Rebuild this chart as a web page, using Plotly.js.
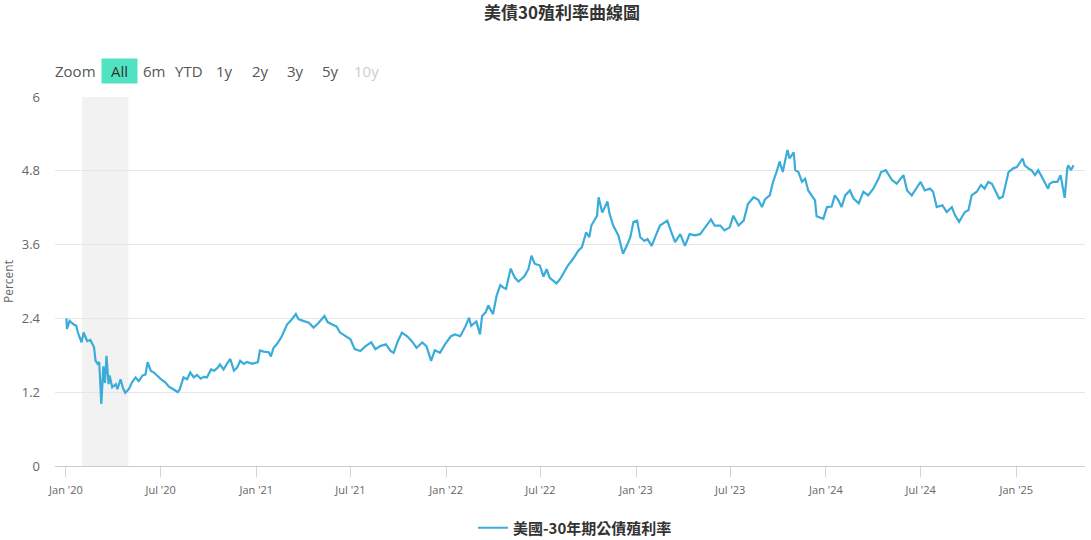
<!DOCTYPE html>
<html><head><meta charset="utf-8">
<script src="https://cdn.plot.ly/plotly-3.0.1.min.js"></script>
<style>html,body{margin:0;padding:0;background:#fff}#chart{width:1091px;height:540px}</style>
</head><body><div id="chart"></div>
<script>
// ---------- DATA ----------
const seriesName = '美國-30年期公債殖利率';
const chartTitle = '美債30殖利率曲線圖';
const yAxisLabel = 'Percent';

const dates2020 = ['2020-01-02','2020-01-03','2020-01-08','2020-01-16','2020-01-21','2020-01-24','2020-01-31','2020-02-04','2020-02-11','2020-02-17','2020-02-24','2020-02-27','2020-03-02','2020-03-05','2020-03-09','2020-03-13','2020-03-16','2020-03-19','2020-03-23','2020-03-25','2020-03-30','2020-04-06','2020-04-09','2020-04-15','2020-04-20','2020-04-24','2020-05-01','2020-05-07','2020-05-14','2020-05-20','2020-05-27','2020-06-02','2020-06-06','2020-06-12','2020-06-18','2020-06-24','2020-07-02','2020-07-10','2020-07-17','2020-07-23','2020-07-30','2020-08-03','2020-08-07','2020-08-14','2020-08-21','2020-08-27','2020-09-03','2020-09-09','2020-09-16','2020-09-22','2020-09-28','2020-10-06','2020-10-12','2020-10-19','2020-10-23','2020-10-30','2020-11-06','2020-11-12','2020-11-19','2020-11-25','2020-12-01','2020-12-08','2020-12-14','2020-12-24'];
const yields2020 = [2.40,2.23,2.36,2.30,2.28,2.17,2.01,2.17,2.03,2.05,1.93,1.71,1.66,1.69,1.01,1.62,1.35,1.79,1.33,1.47,1.28,1.33,1.25,1.41,1.26,1.19,1.25,1.36,1.44,1.38,1.47,1.49,1.69,1.55,1.52,1.47,1.41,1.36,1.29,1.26,1.22,1.20,1.25,1.44,1.41,1.52,1.44,1.48,1.42,1.45,1.44,1.57,1.55,1.60,1.65,1.57,1.67,1.74,1.55,1.60,1.71,1.66,1.69,1.66];

const dates2021 = ['2021-01-04','2021-01-08','2021-01-15','2021-01-25','2021-01-29','2021-02-03','2021-02-11','2021-02-19','2021-03-01','2021-03-08','2021-03-18','2021-03-23','2021-04-01','2021-04-12','2021-04-21','2021-04-30','2021-05-12','2021-05-18','2021-05-27','2021-06-04','2021-06-11','2021-06-21','2021-07-01','2021-07-09','2021-07-20','2021-07-30','2021-08-10','2021-08-18','2021-08-27','2021-09-07','2021-09-16','2021-09-22','2021-09-30','2021-10-08','2021-10-18','2021-10-27','2021-11-05','2021-11-16','2021-11-24','2021-12-03','2021-12-10','2021-12-20','2021-12-30'];
const yields2021 = [1.69,1.88,1.86,1.85,1.78,1.92,2.00,2.11,2.30,2.36,2.47,2.39,2.36,2.33,2.25,2.32,2.44,2.34,2.30,2.27,2.17,2.11,2.06,1.90,1.87,1.95,2.01,1.90,1.95,1.98,1.87,1.84,2.03,2.17,2.11,2.03,1.92,2.01,1.95,1.71,1.88,1.84,1.98];

const dates2022 = ['2022-01-10','2022-01-18','2022-01-28','2022-02-07','2022-02-14','2022-02-18','2022-02-28','2022-03-07','2022-03-11','2022-03-18','2022-03-23','2022-04-01','2022-04-08','2022-04-15','2022-04-21','2022-04-26','2022-05-05','2022-05-13','2022-05-20','2022-05-31','2022-06-08','2022-06-14','2022-06-20','2022-06-30','2022-07-07','2022-07-13','2022-07-19','2022-08-01','2022-08-08','2022-08-15','2022-08-23','2022-09-02','2022-09-12','2022-09-19','2022-09-27','2022-10-03','2022-10-07','2022-10-18','2022-10-21','2022-10-28','2022-11-07','2022-11-11','2022-11-18','2022-11-28','2022-12-07','2022-12-14','2022-12-21','2022-12-27'];
const yields2022 = [2.11,2.14,2.11,2.27,2.41,2.28,2.35,2.14,2.44,2.50,2.61,2.47,2.77,2.94,2.90,2.88,3.21,3.06,3.00,3.08,3.20,3.42,3.29,3.26,3.08,3.20,3.06,2.97,3.04,3.14,3.26,3.37,3.50,3.56,3.80,3.72,3.91,4.07,4.37,4.12,4.30,4.10,3.91,3.75,3.45,3.58,3.72,3.97];

const dates2023 = ['2023-01-03','2023-01-09','2023-01-17','2023-01-23','2023-01-31','2023-02-09','2023-02-16','2023-03-02','2023-03-06','2023-03-10','2023-03-17','2023-03-27','2023-04-05','2023-04-14','2023-04-24','2023-05-04','2023-05-12','2023-05-25','2023-06-01','2023-06-12','2023-06-20','2023-06-30','2023-07-07','2023-07-17','2023-07-27','2023-08-04','2023-08-15','2023-08-24','2023-08-31','2023-09-06','2023-09-15','2023-09-21','2023-09-28','2023-10-04','2023-10-10','2023-10-19','2023-10-23','2023-10-31','2023-11-03','2023-11-09','2023-11-16','2023-11-22','2023-11-28','2023-12-05','2023-12-11','2023-12-14','2023-12-21','2023-12-27'];
const yields2023 = [3.99,3.72,3.66,3.69,3.58,3.77,3.91,3.99,3.91,3.80,3.64,3.77,3.58,3.77,3.75,3.77,3.86,4.01,3.91,3.91,3.83,3.88,4.07,3.91,3.99,4.26,4.37,4.33,4.21,4.34,4.40,4.61,4.78,4.95,4.78,5.14,5.00,5.10,4.81,4.78,4.62,4.67,4.48,4.40,4.32,4.06,4.04,4.02];

const dates2024 = ['2024-01-03','2024-01-12','2024-01-18','2024-01-25','2024-01-31','2024-02-07','2024-02-16','2024-02-23','2024-03-04','2024-03-13','2024-03-22','2024-04-01','2024-04-11','2024-04-16','2024-04-25','2024-04-30','2024-05-07','2024-05-16','2024-05-22','2024-05-29','2024-06-05','2024-06-14','2024-06-20','2024-07-01','2024-07-09','2024-07-19','2024-07-25','2024-08-01','2024-08-12','2024-08-20','2024-08-30','2024-09-05','2024-09-13','2024-09-18','2024-09-24','2024-10-01','2024-10-07','2024-10-17','2024-10-25','2024-11-01','2024-11-08','2024-11-15','2024-11-22','2024-11-29','2024-12-06','2024-12-17','2024-12-26'];
const yields2024 = [4.21,4.22,4.40,4.32,4.21,4.40,4.48,4.35,4.27,4.46,4.40,4.51,4.67,4.78,4.81,4.75,4.65,4.59,4.65,4.73,4.48,4.40,4.48,4.62,4.48,4.51,4.46,4.21,4.24,4.13,4.21,4.08,3.97,4.05,4.13,4.16,4.40,4.46,4.57,4.51,4.62,4.59,4.48,4.35,4.38,4.78,4.84];

const dates2025 = ['2025-01-02','2025-01-13','2025-01-17','2025-01-24','2025-01-30','2025-02-06','2025-02-12','2025-02-21','2025-03-03','2025-03-06','2025-03-13','2025-03-21','2025-03-27','2025-04-04','2025-04-09','2025-04-11','2025-04-16','2025-04-21'];
const yields2025 = [4.86,5.00,4.89,4.84,4.81,4.73,4.81,4.67,4.51,4.59,4.62,4.62,4.73,4.36,4.84,4.89,4.81,4.89];

const recessionPeriod = ['2020-02-01','2020-04-30'];

const xTickVals = ['2020-01-01','2020-07-01','2021-01-01','2021-07-01','2022-01-01','2022-07-01','2023-01-01','2023-07-01','2024-01-01','2024-07-01','2025-01-01'];
const xTickText = ["Jan '20","Jul '20","Jan '21","Jul '21","Jan '22","Jul '22","Jan '23","Jul '23","Jan '24","Jul '24","Jan '25"];
const yTickVals = [0,1.2,2.4,3.6,4.8,6];
const yTickText = ['0','1.2','2.4','3.6','4.8','6'];

const rangeButtons = ['All','6m','YTD','1y','2y','3y','5y','10y'];
const rangeLabel = 'Zoom';

// ---------- LAYOUT ----------
const W = 1091, H = 540, L = 55, R = 6, T = 97, B = 74;
const plotW = W - L - R, plotH = H - T - B;
const px = x => (x - L) / plotW;
const py = y => (H - B - y) / plotH;

const dates = [].concat(dates2020, dates2021, dates2022, dates2023, dates2024, dates2025);
const yields = [].concat(yields2020, yields2021, yields2022, yields2023, yields2024, yields2025);

const uiFont = 'Open Sans, Noto Sans, sans-serif';
const cjkFont = 'Noto Sans CJK TC, Noto Sans CJK SC, sans-serif';

const btnCenters = [119, 153.5, 188.5, 224, 260, 295.5, 330.5, 366];
const btnY = 70.5;
const annotations = [{
  text: rangeLabel, x: px(75), y: py(btnY), xref: 'paper', yref: 'paper',
  xanchor: 'center', yanchor: 'middle', showarrow: false,
  font: {family: uiFont, size: 15, color: '#555'}
}];
rangeButtons.forEach((b, i) => {
  const a = {
    text: b, x: px(btnCenters[i]), y: py(btnY), xref: 'paper', yref: 'paper',
    xanchor: 'center', yanchor: 'middle', showarrow: false,
    font: {family: uiFont, size: 15, color: b === '10y' ? '#cccccc' : '#555'}
  };
  if (i === 0) {
    a.bgcolor = '#50e3c2'; a.width = 31; a.height = 20; a.borderpad = 2;
    a.font.color = '#333';
  }
  annotations.push(a);
});

const trace = {
  x: dates, y: yields, type: 'scatter', mode: 'lines', name: seriesName,
  line: {color: '#3aacd9', width: 2.2}, hoverinfo: 'x+y'
};

const layout = {
  width: W, height: H,
  margin: {l: L, r: R, t: T, b: B, pad: 0, autoexpand: false},
  paper_bgcolor: '#ffffff', plot_bgcolor: '#ffffff',
  title: {text: chartTitle, x: 562 / W, xanchor: 'center', xref: 'container',
          y: 1 - 13 / H, yanchor: 'middle', yref: 'container',
          font: {family: cjkFont, size: 17, color: '#333', weight: 700}},
  showlegend: true,
  legend: {orientation: 'h', x: 575 / W, xanchor: 'center', xref: 'container',
           y: 1 - 528 / H, yanchor: 'middle', yref: 'container',
           font: {family: cjkFont, size: 15, color: '#333', weight: 700}, itemwidth: 30},
  xaxis: {type: 'date', range: ['2019-12-11', '2025-05-13'], automargin: false,
          tickmode: 'array', tickvals: xTickVals, ticktext: xTickText,
          ticks: 'outside', ticklen: 10, tickwidth: 1, tickcolor: '#ccd6eb',
          showline: true, linecolor: '#cccccc', linewidth: 1,
          showgrid: false, zeroline: false, ticklabelstandoff: 4,
          tickfont: {family: uiFont, size: 11, color: '#666'}},
  yaxis: {range: [0, 6], automargin: false, tickmode: 'array', tickvals: yTickVals, ticktext: yTickText,
          showgrid: true, gridcolor: '#e6e6e6', gridwidth: 1, zeroline: false, showline: false,
          ticks: '', ticklabelstandoff: 14,
          tickfont: {family: uiFont, size: 13, color: '#666'},
          title: {text: yAxisLabel, standoff: 6, font: {family: uiFont, size: 12, color: '#666'}}},
  shapes: [{type: 'rect', xref: 'x', yref: 'paper', x0: recessionPeriod[0], x1: recessionPeriod[1],
            y0: 0, y1: 1, fillcolor: '#f2f2f2', line: {width: 0}, layer: 'below'}],
  annotations: annotations
};

Plotly.newPlot('chart', [trace], layout, {displayModeBar: false, responsive: false});
</script></body></html>
